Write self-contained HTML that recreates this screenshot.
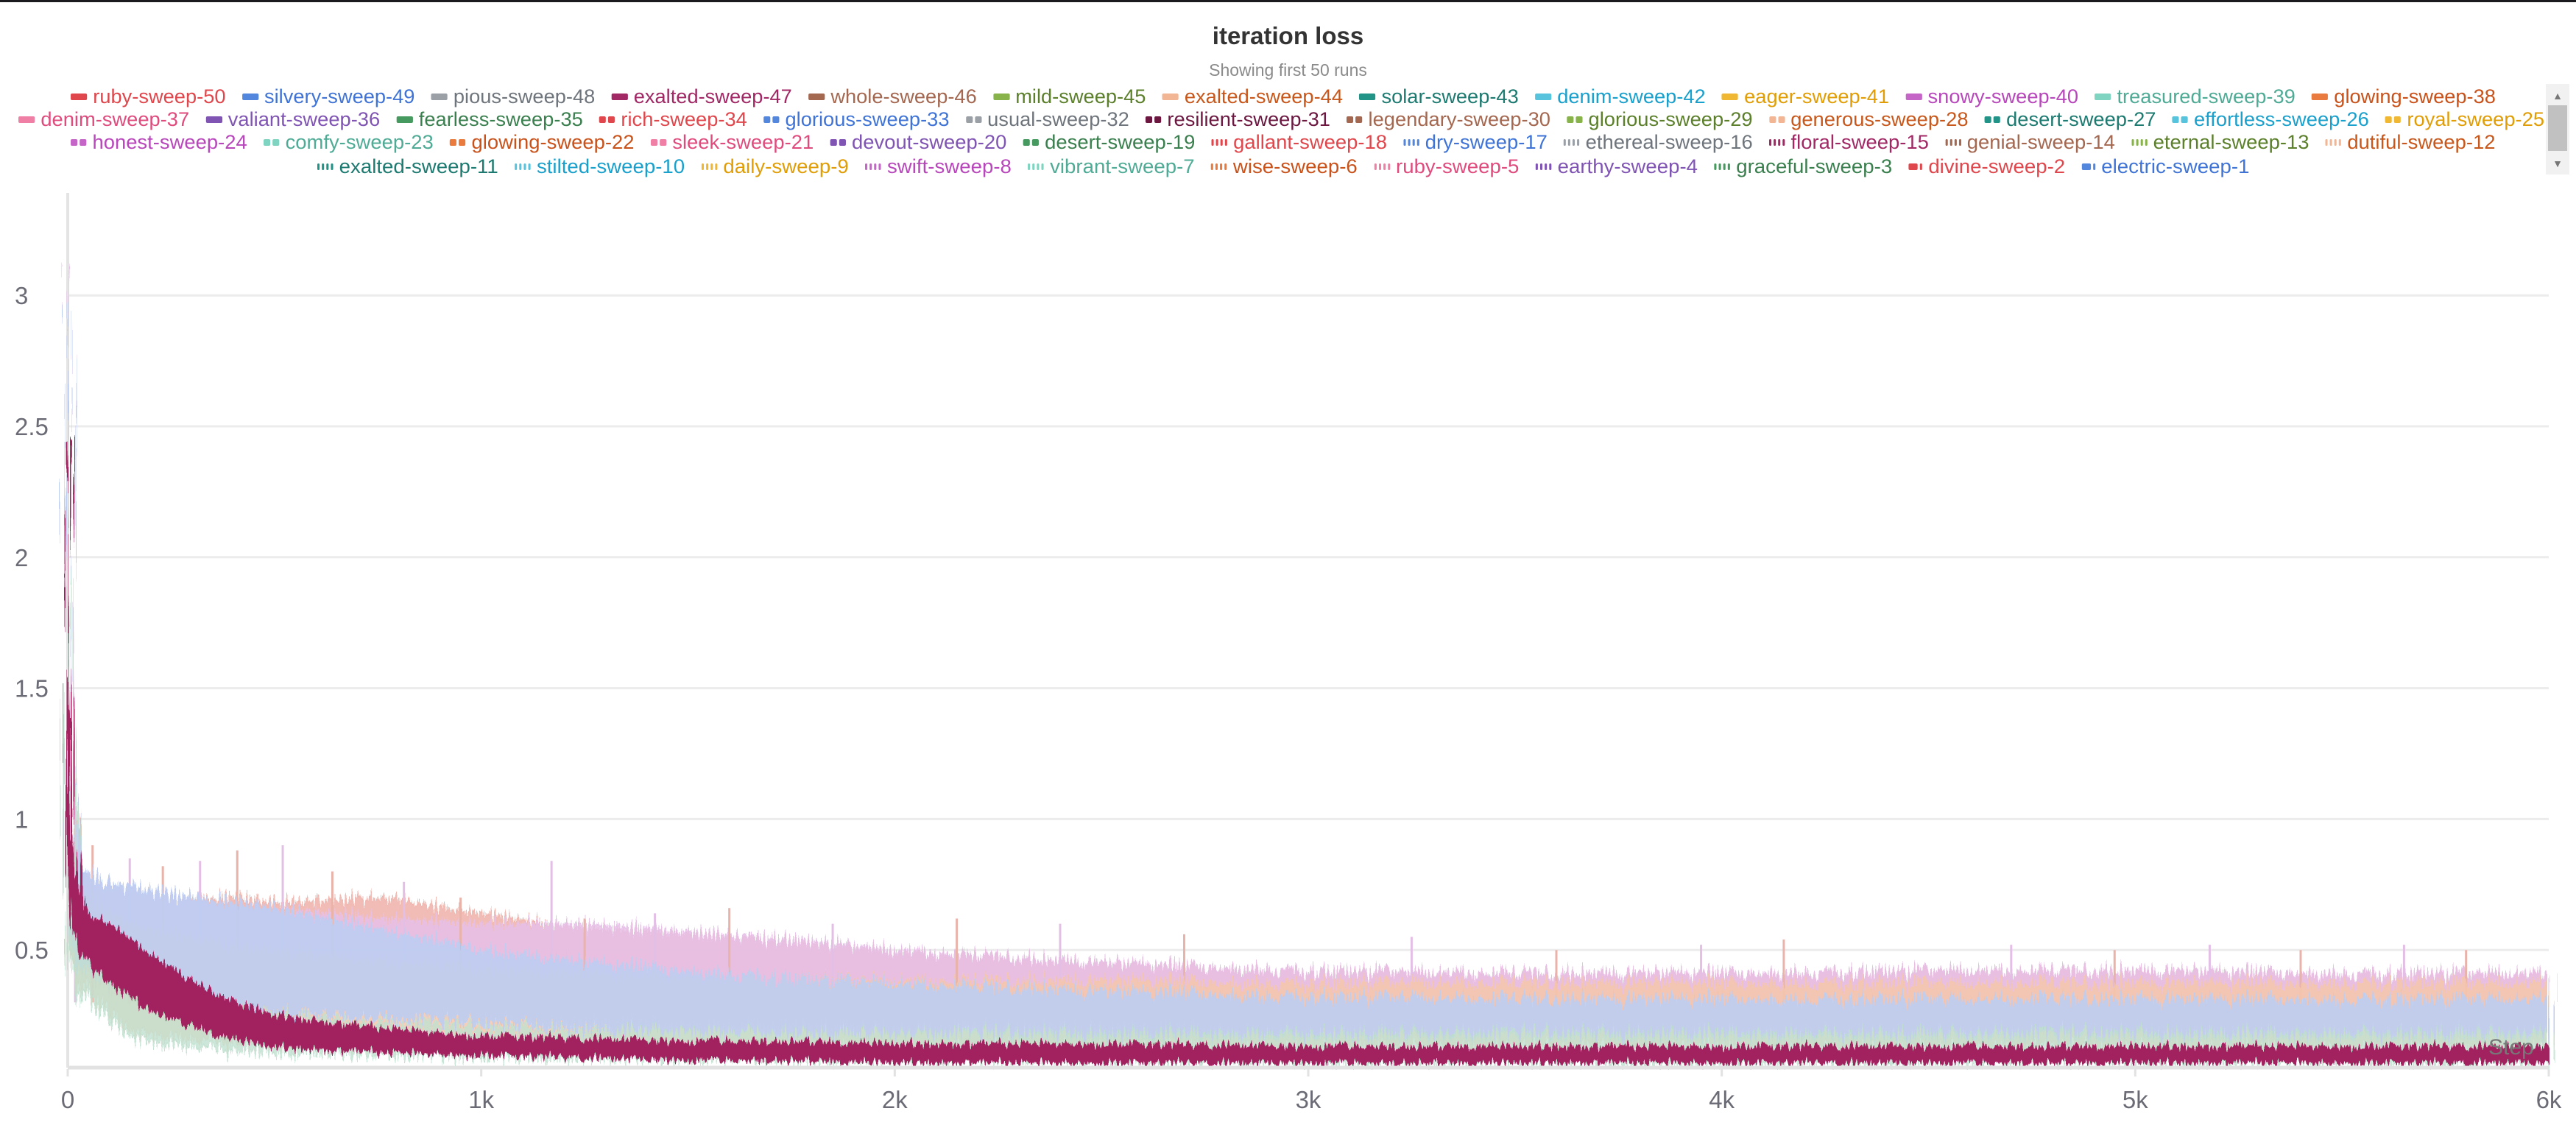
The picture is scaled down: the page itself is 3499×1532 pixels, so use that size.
<!DOCTYPE html>
<html><head><meta charset="utf-8">
<style>
html,body{margin:0;padding:0;background:#fff;}
body{width:3499px;height:1532px;position:relative;overflow:hidden;font-family:"Liberation Sans",sans-serif;}
#topbar{position:absolute;left:0;top:0;width:3499px;height:3px;background:#1a1a1f;}
#title{position:absolute;left:0;width:3499px;top:30px;text-align:center;font-size:33px;font-weight:bold;color:#333;}
#subtitle{position:absolute;left:0;width:3499px;top:82px;text-align:center;font-size:23px;color:#8a8a8a;}
#legend{position:absolute;left:0;top:110px;width:3457px;height:135px;overflow:hidden;}
.lrow{position:absolute;white-space:nowrap;display:flex;align-items:center;transform-origin:0 50%;font-size:27px;}
.litem{display:flex;align-items:center;margin-right:22px;}
.mk{display:flex;gap:3px;margin-right:8px;align-items:center;}
.mk span{display:block;height:9px;border-radius:2px;}
#sb{position:absolute;left:3458px;top:114px;width:32px;height:123px;background:#f1f1f1;}
#sbthumb{position:absolute;left:3px;top:29px;width:26px;height:62px;background:#c1c1c1;}
.arr{position:absolute;left:0;width:32px;text-align:center;font-size:14px;color:#777;}
svg{position:absolute;left:0;top:0;}
</style></head>
<body>
<div id="topbar"></div>
<div id="title">iteration loss</div>
<div id="subtitle">Showing first 50 runs</div>
<div id="legend"></div>
<div id="sb">
  <div class="arr" style="top:8px">▲</div>
  <div id="sbthumb"></div>
  <div class="arr" style="top:100px">▼</div>
</div>
<svg id="chart" width="3499" height="1532">
<defs>
<filter id="jag" x="-2%" y="-20%" width="104%" height="140%">
<feTurbulence type="fractalNoise" baseFrequency="0.35 0.004" numOctaves="2" seed="3" result="n"/>
<feDisplacementMap in="SourceGraphic" in2="n" scale="46" xChannelSelector="A" yChannelSelector="R"/>
</filter>
<filter id="jag2" x="-2%" y="-20%" width="104%" height="140%">
<feTurbulence type="fractalNoise" baseFrequency="0.3 0.004" numOctaves="2" seed="9" result="n"/>
<feDisplacementMap in="SourceGraphic" in2="n" scale="26" xChannelSelector="A" yChannelSelector="R"/>
</filter>
</defs>
</svg>
<script>
// ---------- chart data ----------
const steps = [0,10,25,50,100,150,200,300,400,500,750,1000,1250,1500,1750,2000,2500,3000,3500,4000,4500,5000,5500,6000];
const bandNames = ['salmon-runs','pink-runs','peach-runs','blue-runs','mint-runs','maroon-exalted-sweep-47'];
const salmonHi = [3.0,1.0,.85,.78,.74,.72,.7,.7,.7,.68,.7,.64,.58,.56,.53,.49,.45,.42,.41,.41,.42,.42,.41,.41];
const salmonLo = [.6,.5,.45,.4,.35,.32,.3,.28,.27,.26,.25,.24,.23,.22,.22,.21,.21,.2,.2,.2,.2,.2,.2,.2];
const pinkHi = [3.1,.95,.85,.8,.76,.74,.72,.7,.68,.66,.62,.6,.6,.57,.54,.5,.45,.42,.41,.41,.42,.42,.41,.41];
const pinkLo = [.6,.5,.45,.42,.38,.36,.34,.32,.3,.3,.28,.28,.27,.26,.25,.24,.23,.22,.22,.22,.22,.22,.22,.22];
const peachHi = [2.8,.9,.75,.7,.65,.6,.58,.55,.52,.5,.46,.43,.41,.4,.39,.38,.38,.37,.37,.37,.37,.37,.37,.37];
const peachLo = [.5,.45,.4,.33,.25,.2,.18,.16,.15,.14,.13,.13,.13,.13,.13,.13,.13,.13,.13,.13,.13,.13,.13,.13];
const blueHi = [3.0,.95,.85,.8,.76,.74,.72,.7,.68,.66,.58,.5,.45,.42,.39,.37,.34,.32,.31,.31,.31,.31,.31,.31];
const blueLo = [.6,.5,.45,.42,.38,.36,.33,.3,.28,.26,.24,.22,.2,.19,.18,.18,.17,.17,.17,.17,.17,.17,.17,.17];
const mintHi = [2.0,.85,.7,.6,.5,.42,.38,.32,.28,.25,.22,.2,.19,.19,.18,.18,.18,.18,.18,.18,.18,.18,.18,.18];
const mintLo = [.5,.42,.36,.3,.22,.18,.15,.13,.12,.11,.1,.09,.09,.08,.08,.08,.08,.07,.07,.07,.07,.07,.07,.07];
const maroonHi = [2.45,.95,.75,.63,.6,.54,.48,.38,.3,.25,.2,.17,.16,.15,.15,.14,.14,.13,.13,.13,.13,.13,.13,.13];
const maroonLo = [.8,.6,.5,.45,.38,.32,.27,.21,.16,.13,.11,.1,.09,.08,.08,.07,.07,.07,.07,.07,.07,.07,.07,.07];
const spikeSteps = [18,60,150,230,320,410,520,640,813,950,1170,1250,1420,1600,1850,2150,2400,2700,3250,3600,3950,4150,4700,4950,5180,5400,5650,5800];
const spikeVals = [1.05,.9,.85,.82,.84,.88,.9,.8,.76,.7,.84,.62,.64,.66,.6,.62,.6,.56,.55,.5,.52,.54,.52,.5,.52,.5,.52,.5];
const yTicks = [0.5,1,1.5,2,2.5,3];
const yTickLabels = ['0.5','1','1.5','2','2.5','3'];
const xTicks = [0,1000,2000,3000,4000,5000,6000];
const xTickLabels = ['0','1k','2k','3k','4k','5k','6k'];

// ---------- axes ----------
const X0=92, X1=3462, XMAX=6000;
const Y0=1468, PXU=355.6;
const xs = s => X0 + (X1-X0)*s/XMAX;
const ys = v => Y0 - v*PXU;
const NS='http://www.w3.org/2000/svg';
const svg=document.getElementById('chart');
function mk(tag,attrs){const e=document.createElementNS(NS,tag);for(const k in attrs)e.setAttribute(k,attrs[k]);svg.appendChild(e);return e;}

yTicks.forEach((t,i)=>{
  const g=mk('line',{x1:X0,x2:X1,y1:ys(t),y2:ys(t),stroke:'#ececec','stroke-width':3});
  
  
  const tx=mk('text',{x:20,y:ys(t)+12,'font-size':33,fill:'#6b6b76','font-family':'Liberation Sans, sans-serif'});
  tx.textContent=yTickLabels[i];
  
  
});
const yax=mk('line',{x1:X0,x2:X0,y1:262,y2:1450,stroke:'#e4e4e4','stroke-width':4});



const bands=[[salmonLo,salmonHi,'#efb5ad',0.9],[pinkLo,pinkHi,'#e6c0e8',0.85],[peachLo,peachHi,'#f6c7ab',0.85],[blueLo,blueHi,'#bccdf2',0.9],[mintLo,mintHi,'#bfe0cf',0.8],[maroonLo,maroonHi,'#a2215f',1]];
bands.forEach((b,bi)=>{
  const [lo,hi,col,op]=b;
  let pts=steps.map((s,i)=>xs(s)+','+ys(hi[i]));
  for(let i=steps.length-1;i>=0;i--)pts.push(xs(steps[i])+','+ys(lo[i]));
  const p=mk('polygon',{points:pts.join(' '),fill:col,'fill-opacity':op,stroke:col,'stroke-width':2,filter:bi===5?'url(#jag2)':'url(#jag)'});
  
  
  if(bi===1){
    spikeSteps.forEach((s,i)=>{
      const l=mk('line',{x1:xs(s),x2:xs(s),y1:ys(spikeVals[i]),y2:ys(0.3),stroke:i%2?'#e9b3aa':'#e3bfe6','stroke-width':3});
      
      
    });
  }
});
const xax=mk('line',{x1:X0,x2:X1,y1:1450,y2:1450,stroke:'#e2e2e2','stroke-width':5});


const cover=mk('rect',{x:0,y:1453,width:3499,height:80,fill:'#fff'});


xTicks.forEach((t,i)=>{
  const tk=mk('line',{x1:xs(t),x2:xs(t),y1:1452,y2:1462,stroke:'#e2e2e2','stroke-width':3});
  
  
  const tx=mk('text',{x:xs(t),y:1505,'font-size':33,fill:'#6b6b76','text-anchor':'middle','font-family':'Liberation Sans, sans-serif'});
  tx.textContent=xTickLabels[i];
  
  
});
const st=mk('text',{x:3380,y:1432,'font-size':30,fill:'#777','font-family':'Liberation Sans, sans-serif'});
st.textContent='Step';



// ---------- legend ----------
const legendNames=[
['ruby-sweep-50','silvery-sweep-49','pious-sweep-48','exalted-sweep-47','whole-sweep-46','mild-sweep-45','exalted-sweep-44','solar-sweep-43','denim-sweep-42','eager-sweep-41','snowy-sweep-40','treasured-sweep-39','glowing-sweep-38'],
['denim-sweep-37','valiant-sweep-36','fearless-sweep-35','rich-sweep-34','glorious-sweep-33','usual-sweep-32','resilient-sweep-31','legendary-sweep-30','glorious-sweep-29','generous-sweep-28','desert-sweep-27','effortless-sweep-26','royal-sweep-25'],
['honest-sweep-24','comfy-sweep-23','glowing-sweep-22','sleek-sweep-21','devout-sweep-20','desert-sweep-19','gallant-sweep-18','dry-sweep-17','ethereal-sweep-16','floral-sweep-15','genial-sweep-14','eternal-sweep-13','dutiful-sweep-12'],
['exalted-sweep-11','stilted-sweep-10','daily-sweep-9','swift-sweep-8','vibrant-sweep-7','wise-sweep-6','ruby-sweep-5','earthy-sweep-4','graceful-sweep-3','divine-sweep-2','electric-sweep-1']];
const pal=[['#e0474c','#e0474c'],['#5387dd','#3f74d6'],['#9aa0a6','#6f757c'],['#a12864','#a12864'],['#a46750','#a46750'],['#87b34a','#5b7f2b'],['#f2b694','#c8571b'],['#229487','#1d7a70'],['#58c3dc','#1aa0cc'],['#f0b732','#e09d06'],['#c565c7','#b847bb'],['#7ed4c0','#4fab95'],['#e87b3d','#c9521b']];
const rowPal=[
[0,1,2,3,4,5,6,7,8,9,10,11,12],
[13,14,15,0,1,2,16,4,5,6,7,8,9],
[10,11,12,13,14,15,0,1,2,3,4,5,6],
[7,8,9,10,11,12,13,14,15,0,1]];
const extra=[['#ef7fa5','#e04b7e'],['#7f54b3','#7f54b3'],['#479a5f','#3a7f4e'],['#6b1740','#6b1740']];
function colorOf(i){return i<13?pal[i]:extra[i-13];}
function styleOf(r,i){
  if(r===0)return 'solid';
  if(r===1)return i<3?'solid':'dash';
  if(r===2)return i<6?'dash':'dot';
  return i>=9?'dashdot':'dot';
}
const rowY=[132,163,194,227], rowX0=[96,25,96,431], rowX1=[3390,3456,3390,3055];
const leg=document.getElementById('legend');
legendNames.forEach((row,r)=>{
  const d=document.createElement('div');
  d.className='lrow';
  
  
  row.forEach((nm,i)=>{
    const [mc,tc]=colorOf(rowPal[r][i]);
    const it=document.createElement('div');
    it.className='litem';
    
    
    const m=document.createElement('div');m.className='mk';
    const s=styleOf(r,i);
    const widths=s==='solid'?[22]:s==='dash'?[9,9]:s==='dot'?[3,3,3,3]:[12,3];
    widths.forEach(w=>{const sp=document.createElement('span');sp.style.width=w+'px';sp.style.background=mc;m.appendChild(sp);});
    const t=document.createElement('span');t.textContent=nm;t.style.color=tc;
    it.appendChild(m);it.appendChild(t);d.appendChild(it);
  });
  leg.appendChild(d);
  const w=d.scrollWidth-22;
  const sc=(rowX1[r]-rowX0[r])/w;
  d.style.left=rowX0[r]+'px';
  d.style.top=(rowY[r]-110-16)+'px';
  d.style.transform='scaleX('+sc+')';
});
</script>
</body></html>
